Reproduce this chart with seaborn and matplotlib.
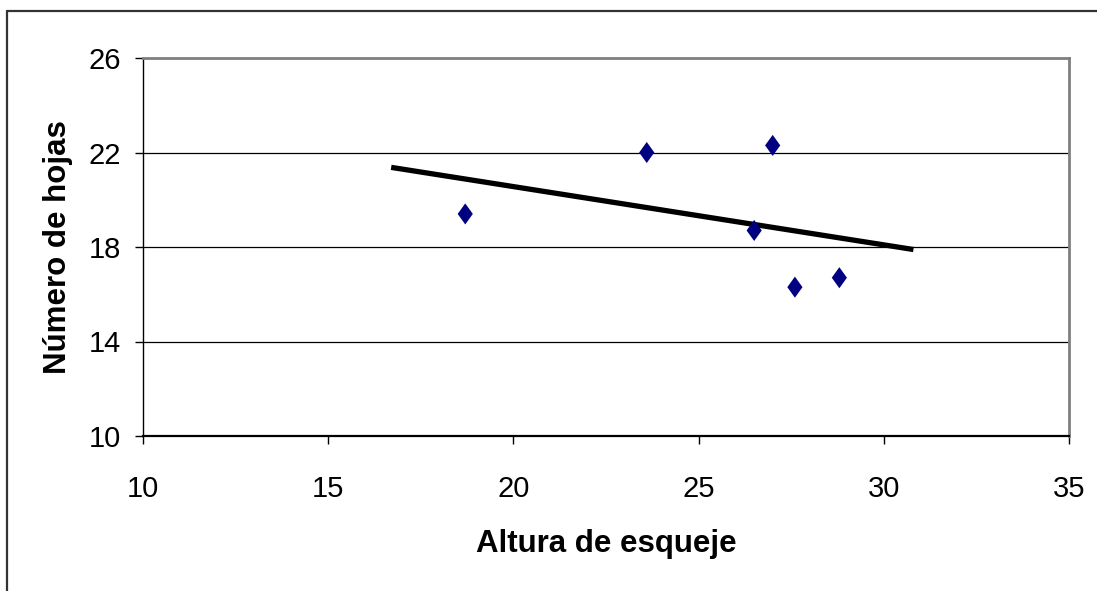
import numpy as np
import pandas as pd
import matplotlib
matplotlib.use("Agg")
import matplotlib.pyplot as plt
from matplotlib.path import Path
from matplotlib.markers import MarkerStyle
from matplotlib.lines import Line2D
import seaborn as sns

# Cutting height vs. number of leaves
altura = [18.7, 23.6, 27.0, 26.5, 27.6, 28.8]
hojas = [19.4, 22.0, 22.3, 18.7, 16.3, 16.7]
x_ticks = [10, 15, 20, 25, 30, 35]
y_ticks = [10, 14, 18, 22, 26]
x_label = "Altura de esqueje"
y_label = "Número de hojas"

sns.set_style("white")
plt.rcParams["font.family"] = ["Liberation Sans", "DejaVu Sans"]
plt.rcParams["text.color"] = "black"
plt.rcParams["axes.labelcolor"] = "black"

df = pd.DataFrame({x_label: altura, y_label: hojas})

W, H = 1097, 591
fig = plt.figure(figsize=(W / 100, H / 100), dpi=100)
ax = fig.add_axes([143 / W, 1 - 436 / H, (1069 - 143) / W, (436 - 58) / H])

# Linear trend line, extended two units past the data on each side
slope, intercept = np.polyfit(altura, hojas, 1)
tx = np.array([min(altura) - 2, max(altura) + 2])
trend = pd.DataFrame({"x": tx, "y": slope * tx + intercept})
sns.lineplot(data=trend, x="x", y="y", color="black", linewidth=3.8,
             ax=ax, zorder=3, solid_capstyle="butt")

# Tall diamond markers
diamond = MarkerStyle(Path([(0, 1), (0.72, 0), (0, -1), (-0.72, 0), (0, 1)],
                           [Path.MOVETO, Path.LINETO, Path.LINETO,
                            Path.LINETO, Path.CLOSEPOLY]))
sns.scatterplot(data=df, x=x_label, y=y_label, marker=diamond, s=230,
                color="#000080", edgecolor="none", ax=ax, zorder=4)

ax.set_xlim(x_ticks[0], x_ticks[-1])
ax.set_ylim(y_ticks[0], y_ticks[-1])
ax.set_xticks(x_ticks)
ax.set_yticks(y_ticks)

ax.set_axisbelow(True)
ax.yaxis.grid(True, color="black", linewidth=0.9)
ax.xaxis.grid(False)

for side in ("top", "right"):
    ax.spines[side].set_color("#808080")
    ax.spines[side].set_linewidth(2.0)
ax.spines["left"].set_color("black")
ax.spines["left"].set_linewidth(1.0)
ax.spines["bottom"].set_color("black")
ax.spines["bottom"].set_linewidth(1.6)

ax.tick_params(axis="both", which="major", direction="out", length=6,
               width=1, color="black", labelsize=21, labelcolor="black")
ax.tick_params(axis="y", pad=10, left=True)
ax.tick_params(axis="x", pad=22, bottom=True)

ax.set_xlabel(x_label, fontsize=22.5, fontweight="bold", labelpad=19,
              color="black")
ax.set_ylabel(y_label, fontsize=22.5, fontweight="bold", labelpad=11,
              color="black")

# Chart-area frame: only its left and top edges fall inside the image
fx, fy = 7 / W, 1 - 11 / H
fig.add_artist(Line2D([fx, fx], [-0.05, fy], transform=fig.transFigure,
                      color="#333333", linewidth=1.6))
fig.add_artist(Line2D([fx, 1.05], [fy, fy], transform=fig.transFigure,
                      color="#333333", linewidth=1.6))

fig.savefig("out.png", dpi=100, facecolor="white")
